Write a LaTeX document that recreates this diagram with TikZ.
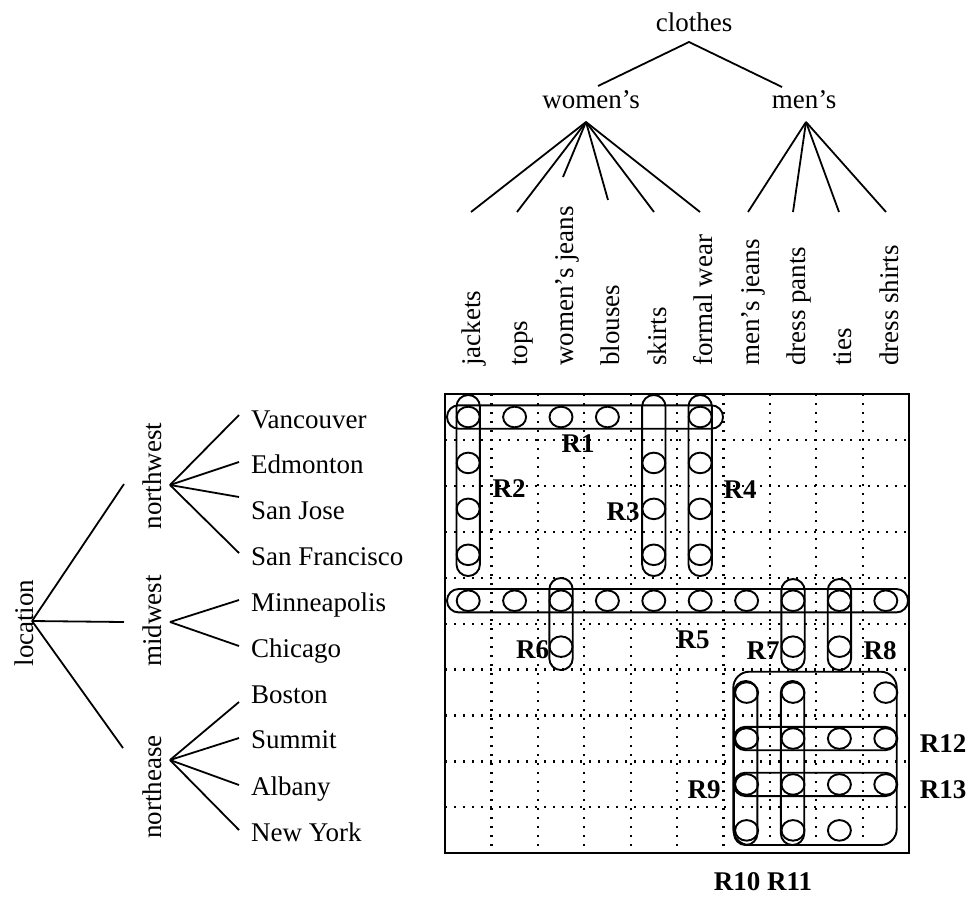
\documentclass[tikz,border=0pt]{standalone}
\usepackage{fontspec}
\setmainfont{Liberation Serif}
\begin{document}
\begin{tikzpicture}[x=1pt,y=-1pt,
  txt/.style={inner sep=0pt, font=\fontsize{27}{30}\selectfont},
  vtxt/.style={txt, rotate=90},
  lab/.style={inner sep=0pt, font=\fontsize{27}{30}\selectfont\bfseries, anchor=base},
  branch/.style={line width=1.8pt},
  dotgrid/.style={line width=2.2pt, dash pattern=on 2.2pt off 6.8pt},
  frame/.style={line width=2.2pt},
  capsule/.style={line width=1.9pt, rounded corners=11.6pt},
  bigbox/.style={line width=1.9pt, rounded corners=16pt},
  cell/.style={line width=1.9pt}
]
\useasboundingbox (0,0) rectangle (968,905);

% ---------- clothes tree ----------
\node[txt, anchor=base] (clothes) at (694,31) {clothes};
\node[txt, anchor=base] (women) at (591,108) {women's};
\node[txt, anchor=base] (men) at (804,108) {men's};
\coordinate (clA) at (689,42);
\coordinate (clW) at (598,86);
\coordinate (clM) at (782,87);
\draw[branch] (clW) -- (clA) -- (clM);
\coordinate (wA) at (586,122);
\coordinate (mA) at (806,122);
\coordinate (e0) at (471,212);
\coordinate (e1) at (517,212);
\coordinate (e2) at (563,177);
\coordinate (e3) at (608,200);
\coordinate (e4) at (654,212);
\coordinate (e5) at (700,212);
\coordinate (e6) at (748,212);
\coordinate (e7) at (793,212);
\coordinate (e8) at (839,212);
\coordinate (e9) at (886,212);
\foreach \k in {0,...,5} \draw[branch] (wA) -- (e\k);
\foreach \k in {6,...,9} \draw[branch] (mA) -- (e\k);

% column labels
\foreach \k/\t in {0/jackets,1/tops,2/women's jeans,3/blouses,4/skirts,5/formal wear,6/men's jeans,7/dress pants,8/ties,9/dress shirts}
  \node[vtxt, anchor=base west] (col\k) at ({468.2+46.4*\k+12.5},366) {\t};

% ---------- location tree ----------
\node[vtxt, anchor=base] (location) at (33,623) {location};
\node[vtxt, anchor=base] (northwest) at (161,476) {northwest};
\node[vtxt, anchor=base] (midwest) at (161,621) {midwest};
\node[vtxt, anchor=base] (northease) at (161,787) {northease};
\coordinate (lA) at (32,621);
\coordinate (lNW) at (124,484);
\coordinate (lMW) at (124,622);
\coordinate (lNE) at (123,748);
\draw[branch] (lA) -- (lNW);
\draw[branch] (lA) -- (lMW);
\draw[branch] (lA) -- (lNE);
\coordinate (nwA) at (170,485);
\coordinate (mwA) at (170,622);
\coordinate (neA) at (170,760);
\foreach \k/\y in {0/415,1/462,2/497,3/553,4/600,5/646,6/702,7/738,8/785,9/830}
  \coordinate (ce\k) at (239,\y);
\foreach \k in {0,...,3} \draw[branch] (nwA) -- (ce\k);
\foreach \k in {4,5} \draw[branch] (mwA) -- (ce\k);
\foreach \k in {6,...,9} \draw[branch] (neA) -- (ce\k);
\foreach \k/\t/\y in {0/Vancouver/428,1/Edmonton/473,2/San Jose/519,3/San Francisco/565,4/Minneapolis/611,5/Chicago/657,6/Boston/703,7/Summit/748,8/Albany/795,9/New York/841}
  \node[txt, anchor=base west] (city\k) at (251,\y) {\t};

% ---------- grid ----------
\foreach \k in {1,...,9} {
  \draw[dotgrid] ({445+46.4*\k},394) -- ({445+46.4*\k},853);
  \draw[dotgrid] (445,{394+45.93*\k}) -- (909,{394+45.93*\k});
}
\draw[frame] (445,394) rectangle (909,853);

% cells
\foreach \c/\r in {0/0,1/0,2/0,3/0,5/0,
  0/1,4/1,5/1, 0/2,4/2,5/2, 0/3,4/3,5/3,
  0/4,1/4,2/4,3/4,4/4,5/4,6/4,7/4,8/4,9/4,
  2/5,7/5,8/5,
  6/6,7/6,9/6, 6/7,7/7,8/7,9/7, 6/8,7/8,8/8,9/8, 6/9,7/9,8/9}
  \draw[cell] ({468.2+46.4*\c},{417+45.93*\r}) ellipse [x radius=11.5, y radius=10.3];

% regions
\draw[capsule] (447,405.3) rectangle (723,428.7);      % R1
\draw[capsule] (456.5,395) rectangle (479.9,576);      % R2
\draw[capsule] (642.1,395) rectangle (665.5,576);      % R3
\draw[capsule] (688.5,395) rectangle (711.9,576);      % R4
\draw[capsule] (447,589) rectangle (908,612.4);        % R5
\draw[capsule] (549.3,578) rectangle (572.7,670);      % R6
\draw[capsule] (781.3,579) rectangle (804.7,670);      % R7
\draw[capsule] (827.7,579) rectangle (851.1,670);      % R8
\draw[bigbox]  (733.3,671.7) rectangle (896.7,845);    % R9
\draw[capsule] (734,681) rectangle (757.4,845);        % R10
\draw[capsule] (780.8,681) rectangle (804.2,845);      % R11
\draw[capsule] (733.8,726.8) rectangle (896.7,750.2);  % R12
\draw[capsule] (733.8,772.7) rectangle (896.7,796.1);  % R13

% region labels
\node[lab] (R1) at (578,452) {R1};
\node[lab] (R2) at (509,497) {R2};
\node[lab] (R3) at (623,520) {R3};
\node[lab] (R4) at (740,498) {R4};
\node[lab] (R5) at (693,648) {R5};
\node[lab] (R6) at (532.5,658) {R6};
\node[lab] (R7) at (763,659) {R7};
\node[lab] (R8) at (880,659) {R8};
\node[lab] (R9) at (704,798) {R9};
\node[lab] (R12) at (943,752) {R12};
\node[lab] (R13) at (943,798) {R13};
\node[lab] (R1011) at (763,890) {R10 R11};
\end{tikzpicture}
\end{document}
